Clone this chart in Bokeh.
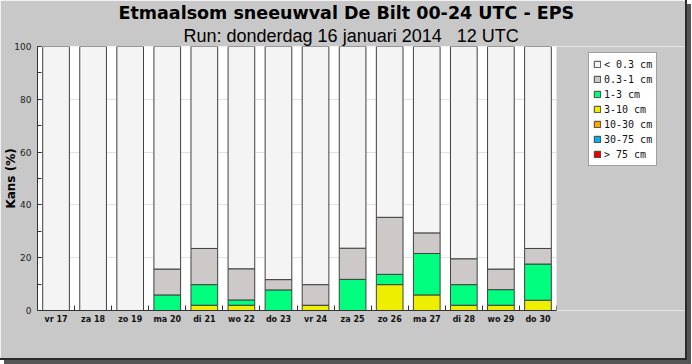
from bokeh.plotting import figure
from bokeh.models import (FixedTicker, SingleIntervalTicker, Title, Legend, LegendItem,
                          ColumnDataSource, Range1d, BoxAnnotation)
from bokeh.embed import file_html
from bokeh.resources import INLINE

days = ["vr 17", "za 18", "zo 19", "ma 20", "di 21", "wo 22", "do 23",
        "vr 24", "za 25", "zo 26", "ma 27", "di 28", "wo 29", "do 30"]
pos = list(range(len(days)))

lt_03 = [100, 100, 100, 84.3, 76.5, 84.2, 88.3, 90.2, 76.4, 64.7, 70.6, 80.4, 84.3, 76.5]
c03_1 = [0, 0, 0, 9.8, 13.7, 11.8, 3.9, 7.8, 11.8, 21.6, 7.8, 9.8, 7.8, 5.9]
c1_3 = [0, 0, 0, 5.9, 7.8, 2.0, 7.8, 0, 11.8, 3.9, 15.7, 7.8, 5.9, 13.7]
c3_10 = [0, 0, 0, 0, 2.0, 2.0, 0, 2.0, 0, 9.8, 5.9, 2.0, 2.0, 3.9]
c10_30 = [0] * 14
c30_75 = [0] * 14
gt_75 = [0] * 14

classes = ["< 0.3 cm", "0.3-1 cm", "1-3 cm", "3-10 cm", "10-30 cm", "30-75 cm", "> 75 cm"]
keys = ["lt03", "c03_1", "c1_3", "c3_10", "c10_30", "c30_75", "gt75"]
colors = ["#f4f4f4", "#cdc9c9", "#00ff7f", "#eeee00", "#ffa500", "#00b2ee", "#ee0000"]

source = ColumnDataSource(dict(x=pos, lt03=lt_03, c03_1=c03_1, c1_3=c1_3, c3_10=c3_10,
                               c10_30=c10_30, c30_75=c30_75, gt75=gt_75))

n = len(days)
bar_area_px = 519.0     # width of the white plotting area
frame_px = 648          # frame extends under the legend area
x_end = -0.5 + n * frame_px / bar_area_px
panel_grey = "#c8c8c8"

p = figure(width=685, height=357, frame_width=frame_px, frame_height=264, title=None,
           x_range=Range1d(-0.5, x_end), y_range=Range1d(0, 100),
           output_backend="svg", toolbar_location=None,
           min_border_left=37, min_border_right=0, min_border_top=0, min_border_bottom=48,
           border_fill_color=panel_grey, background_fill_color="white",
           outline_line_color=None)

p.styles = {"border-right": "2px solid #2a2a2a", "border-bottom": "2px solid #2a2a2a",
            "box-shadow": "4px 4px 0 #555555"}

stack_keys = keys[::-1]
stack_colors = colors[::-1]
rs = p.vbar_stack(stack_keys, x="x", width=0.72, source=source,
                  fill_color=stack_colors, line_color="#404040", line_width=1)
rmap = dict(zip(stack_keys, rs))

# grey panel area right of the plotting area (covers grid lines there)
p.add_layout(BoxAnnotation(left=n - 0.5, fill_color=panel_grey, fill_alpha=1.0,
                           line_color=None, level="annotation"))

# axes
p.xgrid.visible = False
p.ygrid.grid_line_color = "#e2e2e2"

xa = p.xaxis[0]
xa.bounds = (-0.5, n - 0.5)
xa.ticker = FixedTicker(ticks=pos, minor_ticks=[i + 0.5 for i in range(-1, n)])
xa.major_label_overrides = {i: d for i, d in zip(pos, days)}
xa.major_tick_in = 0
xa.major_tick_out = 0
xa.minor_tick_in = 5
xa.minor_tick_out = 0
xa.minor_tick_line_color = "#333333"
xa.axis_line_color = "#333333"
xa.major_label_text_font = "DejaVu Sans"
xa.major_label_text_font_style = "bold"
xa.major_label_text_font_size = "8px"
xa.major_label_text_color = "#111111"
xa.major_label_standoff = 4

ya = p.yaxis[0]
ya.ticker = SingleIntervalTicker(interval=20, num_minor_ticks=2)
ya.major_tick_in = 4
ya.major_tick_out = 0
ya.minor_tick_in = 4
ya.minor_tick_out = 0
ya.major_tick_line_color = "#333333"
ya.minor_tick_line_color = "#333333"
ya.axis_line_color = "#333333"
ya.major_label_text_font = "DejaVu Sans"
ya.major_label_text_font_size = "9px"
ya.major_label_text_color = "#222222"
ya.major_label_standoff = 6
ya.axis_label = "Kans (%)"
ya.axis_label_text_font = "DejaVu Sans"
ya.axis_label_text_font_style = "bold"
ya.axis_label_text_font_size = "12px"
ya.axis_label_text_color = "#000000"
ya.axis_label_standoff = -7

# titles (subtitle first: it sits nearer the frame)
p.add_layout(Title(text="Run: donderdag 16 januari 2014\u00a0\u00a0 12 UTC", align="left",
                   offset=146, text_font="Liberation Sans", text_font_size="18px",
                   text_line_height=3.8,
                   text_font_style="normal", text_color="#000000", standoff=2), "above")
p.add_layout(Title(text="Etmaalsom sneeuwval De Bilt 00-24 UTC - EPS", align="left",
                   offset=81, text_font="DejaVu Sans", text_font_style="bold",
                   text_font_size="17.5px", text_color="#000000", standoff=0), "above")

items = [LegendItem(label=c, renderers=[rmap[k]]) for c, k in zip(classes, keys)]
legend = Legend(items=items, location=(551, 144),
                label_text_font="DejaVu Sans Mono", label_text_font_size="10px",
                label_text_color="#111111",
                glyph_width=8, glyph_height=8, label_height=14, label_standoff=3,
                spacing=1, padding=4, margin=0,
                border_line_color="#404040", background_fill_color="white",
                background_fill_alpha=1.0)
p.add_layout(legend)

open("out.html", "w").write(file_html(p, INLINE))
